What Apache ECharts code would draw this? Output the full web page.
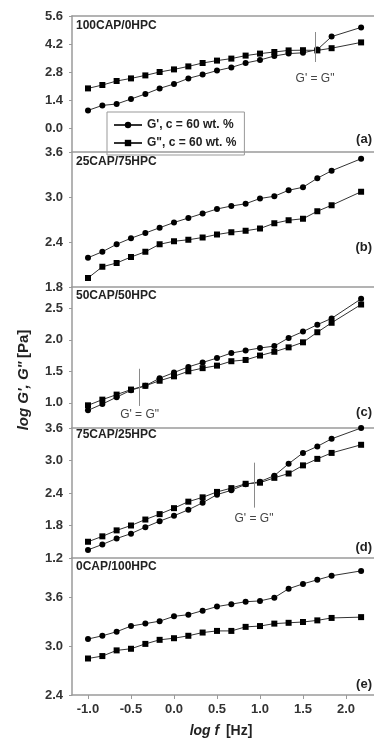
<!DOCTYPE html>
<html>
<head>
<meta charset="utf-8">
<script src="https://cdn.jsdelivr.net/npm/echarts@6/dist/echarts.min.js"></script>
<style>
  html, body { margin: 0; padding: 0; background: #fff; }
  #chart { width: 374px; height: 741px; }
</style>
</head>
<body>
<div id="chart"></div>
<script>
// Frequency sweep, log f [Hz] (6 points per decade, last point at 150 Hz)
const logF = [-1, -0.833, -0.667, -0.5, -0.333, -0.167, 0, 0.167, 0.333, 0.5,
              0.667, 0.833, 1, 1.167, 1.333, 1.5, 1.667, 1.833, 2.176];

// log G' (storage modulus) per blend
const gStorageA = [0.88, 1.13, 1.20, 1.45, 1.70, 1.98, 2.20, 2.48, 2.67, 2.87, 3.03, 3.25, 3.40, 3.60, 3.72, 3.76, 3.92, 4.57, 5.03];
const gStorageB = [2.19, 2.27, 2.37, 2.45, 2.52, 2.59, 2.66, 2.72, 2.78, 2.84, 2.88, 2.91, 2.98, 3.01, 3.09, 3.13, 3.25, 3.35, 3.51];
const gStorageC = [0.88, 0.98, 1.09, 1.20, 1.27, 1.39, 1.48, 1.57, 1.64, 1.71, 1.79, 1.83, 1.87, 1.90, 2.03, 2.13, 2.24, 2.34, 2.65];
const gStorageD = [1.35, 1.45, 1.56, 1.65, 1.77, 1.88, 1.98, 2.09, 2.22, 2.37, 2.45, 2.56, 2.61, 2.72, 2.94, 3.14, 3.26, 3.40, 3.60];
const gStorageE = [3.09, 3.13, 3.18, 3.25, 3.28, 3.31, 3.37, 3.39, 3.44, 3.49, 3.52, 3.55, 3.56, 3.60, 3.71, 3.77, 3.82, 3.87, 3.93];

// log G" (loss modulus) per blend
const gLossA = [1.98, 2.15, 2.35, 2.48, 2.63, 2.80, 2.93, 3.08, 3.25, 3.37, 3.47, 3.62, 3.72, 3.80, 3.88, 3.89, 3.88, 3.99, 4.28];
const gLossB = [1.92, 2.07, 2.12, 2.20, 2.27, 2.37, 2.41, 2.43, 2.46, 2.50, 2.53, 2.55, 2.58, 2.65, 2.69, 2.71, 2.81, 2.89, 3.07];
const gLossC = [0.96, 1.05, 1.13, 1.21, 1.27, 1.35, 1.42, 1.50, 1.55, 1.59, 1.66, 1.68, 1.75, 1.81, 1.88, 1.96, 2.12, 2.27, 2.56];
const gLossD = [1.50, 1.60, 1.71, 1.80, 1.91, 2.01, 2.12, 2.24, 2.32, 2.42, 2.49, 2.57, 2.59, 2.68, 2.76, 2.91, 3.03, 3.14, 3.29];
const gLossE = [2.85, 2.88, 2.95, 2.97, 3.03, 3.08, 3.10, 3.13, 3.17, 3.19, 3.19, 3.24, 3.25, 3.28, 3.29, 3.30, 3.32, 3.35, 3.36];

// Blend names and panel tags
const blendNames = ['100CAP/0HPC', '25CAP/75HPC', '50CAP/50HPC', '75CAP/25HPC', '0CAP/100HPC'];
const panelTags = ['(a)', '(b)', '(c)', '(d)', '(e)'];

// Tick labels
const xTicks = [-1.0, -0.5, 0.0, 0.5, 1.0, 1.5, 2.0];
const yTicksA = [5.6, 4.2, 2.8, 1.4, 0.0];
const yTicksB = [3.6, 3.0, 2.4, 1.8];
const yTicksC = [2.5, 2.0, 1.5, 1.0];
const yTicksD = [3.6, 3.0, 2.4, 1.8, 1.2];
const yTicksE = [3.6, 3.0, 2.4];

// Crossover frequency (G' = G") where it occurs, null otherwise
const crossoverLogF = [1.64, null, -0.40, 0.93, null];

const storageSets = [gStorageA, gStorageB, gStorageC, gStorageD, gStorageE];
const lossSets = [gLossA, gLossB, gLossC, gLossD, gLossE];
const yTickSets = [yTicksA, yTicksB, yTicksC, yTicksD, yTicksE];

// Panel geometry (pixels) and visible y ranges
const panels = [
  { top: 16,  height: 136, min: -1.2,  max: 5.6,   nameTop: 20,  tagTop: 133, cross: { y1: 4.8, y2: 3.3,  dist: 11 } },
  { top: 152, height: 135, min: 1.8,   max: 3.6,   nameTop: 156, tagTop: 241 },
  { top: 287, height: 141, min: 0.6,   max: 2.838, nameTop: 290, tagTop: 406, cross: { y1: 1.54, y2: 0.95, dist: 3 } },
  { top: 428, height: 130, min: 1.2,   max: 3.6,   nameTop: 429, tagTop: 541, cross: { y1: 2.96, y2: 2.13, dist: 5 } },
  { top: 558, height: 137, min: 2.4,   max: 4.089, nameTop: 561, tagTop: 678 }
];

const X_MIN = -1.186, X_MAX = 2.326;
const FONT = "'Liberation Sans', Arial, sans-serif";
const AXIS_GRAY = '#9a9a9a';
const NAME_STORAGE = "G', c = 60 wt. %";
const NAME_LOSS = 'G", c = 60 wt. %';

const grids = [], xAxes = [], yAxes = [], series = [], titles = [];

panels.forEach((p, i) => {
  const last = i === panels.length - 1;
  grids.push({ left: 72, right: 0, top: p.top, height: p.height });

  xAxes.push({
    type: 'value', gridIndex: i, min: X_MIN, max: X_MAX,
    splitLine: { show: false },
    axisLine: { show: true, onZero: false, lineStyle: { color: AXIS_GRAY, width: 1.5 } },
    axisTick: { show: last, length: 4, customValues: xTicks, lineStyle: { color: AXIS_GRAY } },
    axisLabel: {
      show: last, customValues: xTicks, margin: 8,
      formatter: v => v.toFixed(1),
      fontFamily: FONT, fontSize: 13, fontWeight: 'bold', color: '#333'
    }
  });

  yAxes.push({
    type: 'value', gridIndex: i, min: p.min, max: p.max,
    splitLine: { show: false },
    axisLine: { show: true, onZero: false, lineStyle: { color: AXIS_GRAY, width: 1.5 } },
    axisTick: { show: true, length: 3, customValues: yTickSets[i], lineStyle: { color: AXIS_GRAY } },
    axisLabel: {
      customValues: yTickSets[i], margin: 9,
      formatter: v => v.toFixed(1),
      fontFamily: FONT, fontSize: 13, fontWeight: 'bold', color: '#333'
    }
  });

  const storage = {
    type: 'line', name: NAME_STORAGE, xAxisIndex: i, yAxisIndex: i,
    data: logF.map((x, k) => [x, storageSets[i][k]]),
    symbol: 'circle', symbolSize: 6,
    lineStyle: { color: '#333', width: 1 },
    itemStyle: { color: '#000' },
    z: 4
  };
  if (crossoverLogF[i] !== null) {
    storage.markLine = {
      silent: true, symbol: 'none', animation: false,
      lineStyle: { color: '#8a8a8a', width: 1, type: 'solid' },
      label: {
        show: true, position: 'end', distance: p.cross.dist,
        formatter: 'G\' = G"', fontFamily: FONT, fontSize: 12, color: '#444'
      },
      data: [[{ coord: [crossoverLogF[i], p.cross.y1] }, { coord: [crossoverLogF[i], p.cross.y2] }]]
    };
  }
  series.push(storage);

  series.push({
    type: 'line', name: NAME_LOSS, xAxisIndex: i, yAxisIndex: i,
    data: logF.map((x, k) => [x, lossSets[i][k]]),
    symbol: 'rect', symbolSize: 6,
    lineStyle: { color: '#333', width: 1 },
    itemStyle: { color: '#000' },
    z: 3
  });

  titles.push({
    text: blendNames[i], left: 76, top: p.nameTop, padding: 0,
    textStyle: { fontFamily: FONT, fontSize: 12, fontWeight: 'bold', color: '#222' }
  });
  titles.push({
    text: panelTags[i], right: 2, top: p.tagTop, padding: 0,
    textStyle: { fontFamily: FONT, fontSize: 13, fontWeight: 'bold', color: '#222' }
  });
});

// Top frame line of the first panel
xAxes.push({
  type: 'value', gridIndex: 0, position: 'top', min: X_MIN, max: X_MAX,
  splitLine: { show: false }, axisTick: { show: false }, axisLabel: { show: false },
  axisLine: { show: true, onZero: false, lineStyle: { color: AXIS_GRAY, width: 1.5 } }
});

const chart = echarts.init(document.getElementById('chart'), null, { renderer: 'canvas' });
chart.setOption({
  animation: false,
  backgroundColor: '#fff',
  title: titles,
  grid: grids,
  xAxis: xAxes,
  yAxis: yAxes,
  series: series,
  legend: {
    data: [NAME_STORAGE, NAME_LOSS],
    left: 107, top: 112, orient: 'vertical',
    padding: [7, 8, 6, 6], itemGap: 6,
    itemWidth: 28, itemHeight: 8,
    borderColor: '#999', borderWidth: 1,
    textStyle: { fontFamily: FONT, fontSize: 12, fontWeight: 'bold', color: '#222' },
    selectedMode: false
  },
  graphic: [
    {
      type: 'text', x: 24, y: 380, rotation: Math.PI / 2,
      style: {
        text: '{i|log G\', G"} {n|[Pa]}',
        align: 'center', verticalAlign: 'middle',
        rich: {
          i: { fontFamily: FONT, fontSize: 15, fontWeight: 'bold', fontStyle: 'italic', fill: '#222' },
          n: { fontFamily: FONT, fontSize: 15, fontWeight: 'bold', fill: '#222' }
        }
      }
    },
    {
      type: 'text', x: 221, y: 731,
      style: {
        text: '{i|log f}  {n|[Hz]}',
        align: 'center', verticalAlign: 'middle',
        rich: {
          i: { fontFamily: FONT, fontSize: 14, fontWeight: 'bold', fontStyle: 'italic', fill: '#222' },
          n: { fontFamily: FONT, fontSize: 14, fontWeight: 'bold', fill: '#222' }
        }
      }
    }
  ]
});
</script>
</body>
</html>
